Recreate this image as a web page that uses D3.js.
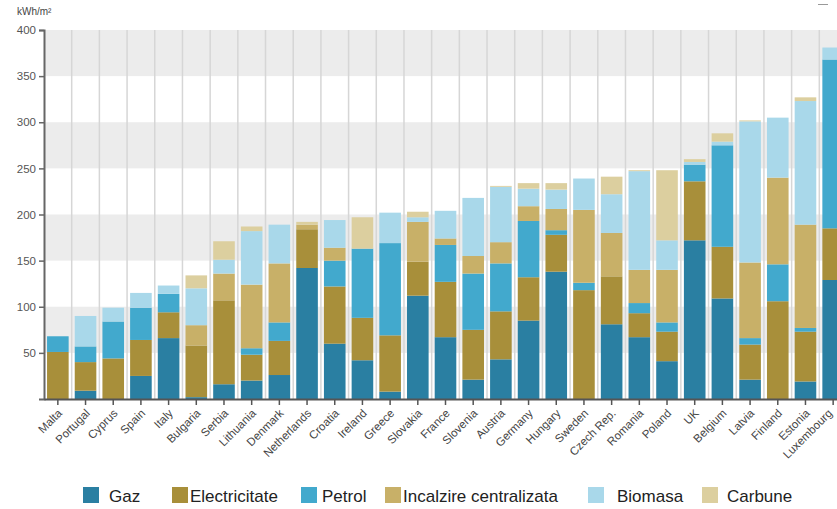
<!DOCTYPE html>
<html><head><meta charset="utf-8">
<script src="https://cdn.jsdelivr.net/npm/d3@7"></script>
<style>body{margin:0;background:#fff;overflow:hidden}svg{display:block;font-family:"Liberation Sans",Arial,sans-serif}</style>
</head><body>
<svg id="c" width="837" height="509"></svg>
<script>
const countries = ["Malta","Portugal","Cyprus","Spain","Italy","Bulgaria","Serbia","Lithuania","Denmark","Netherlands","Croatia","Ireland","Greece","Slovakia","France","Slovenia","Austria","Germany","Hungary","Sweden","Czech Rep.","Romania","Poland","UK","Belgium","Latvia","Finland","Estonia","Luxembourg"];
const seriesNames = ["Gaz","Electricitate","Petrol","Incalzire centralizata","Biomasa","Carbune"];
const gaz           = [0, 9, 0, 25, 66, 2, 16, 20, 26, 142, 60, 42, 8, 112, 67, 21, 43, 85, 138, 0, 81, 67, 41, 172, 109, 21, 0, 19, 129];
const electricitate = [51, 31, 44, 39, 28, 56, 91, 28, 37, 42, 62, 46, 61, 37, 60, 54, 52, 47, 40, 118, 52, 26, 32, 64, 56, 38, 106, 54, 56];
const petrol        = [17, 17, 40, 35, 20, 0, 0, 7, 20, 0, 28, 75, 100, 0, 40, 61, 52, 61, 5, 8, 0, 11, 10, 18, 110, 7, 40, 4, 183];
const incalzire     = [0, 0, 0, 0, 0, 22, 29, 69, 64, 5, 14, 0, 0, 43, 7, 19, 23, 16, 23, 79, 47, 36, 57, 0, 0, 82, 94, 112, 0];
const biomasa       = [0, 33, 15, 16, 9, 40, 15, 58, 42, 0, 30, 0, 33, 5, 30, 63, 60, 19, 21, 34, 42, 107, 32, 3, 4, 153, 65, 134, 13];
const carbune       = [0, 0, 0, 0, 0, 14, 20, 5, 0, 3, 0, 34, 0, 6, 0, 0, 1, 6, 7, 0, 19, 1, 76, 3, 9, 1, 0, 4, 0];
const yTicks = [50,100,150,200,250,300,350,400];
const colors = ["#2a7fa2","#a88f3a","#42a9cd","#c8b068","#a9d8ea","#dccf9f"];

const svg = d3.select("#c");
const x = d3.scaleBand().domain(countries).range([44, 847]).paddingInner(0.22).paddingOuter(0.11);
const y = d3.scaleLinear().domain([0, 400]).range([399, 30]);

// alternating background bands
const bands = [[350,400],[250,300],[150,200],[50,100]];
svg.append("g").selectAll("rect").data(bands).join("rect")
  .attr("x", 44).attr("width", 837-44)
  .attr("y", d => y(d[1])).attr("height", d => y(d[0]) - y(d[1]))
  .attr("fill", "#ececec");

// vertical separators
svg.append("g").selectAll("line").data(countries.slice(1)).join("line")
  .attr("x1", d => x(d) - x.step()*x.paddingInner()/2)
  .attr("x2", d => x(d) - x.step()*x.paddingInner()/2)
  .attr("y1", y(400)).attr("y2", y(0))
  .attr("stroke", "#d6d6d6").attr("stroke-width", 1.5);

// stacked data
const table = countries.map((c, i) => ({
  country: c,
  "Gaz": gaz[i], "Electricitate": electricitate[i], "Petrol": petrol[i],
  "Incalzire centralizata": incalzire[i], "Biomasa": biomasa[i], "Carbune": carbune[i]
}));
const stacked = d3.stack().keys(seriesNames)(table);

svg.append("g").selectAll("g").data(stacked).join("g")
  .attr("fill", (d, i) => colors[i])
  .selectAll("rect").data(d => d).join("rect")
  .attr("x", d => x(d.data.country))
  .attr("width", x.bandwidth())
  .attr("y", d => y(d[1]))
  .attr("height", d => Math.max(0, y(d[0]) - y(d[1])));

// y axis
const ya = svg.append("g").attr("transform", "translate(44,0)")
  .call(d3.axisLeft(y).tickValues(yTicks).tickSize(5).tickPadding(3).tickFormat(d3.format("d")));
ya.select(".domain").attr("stroke", "#666").attr("stroke-width", 2);
ya.selectAll(".tick line").attr("stroke", "#666").attr("stroke-width", 1.5);
ya.selectAll("text").attr("fill", "#555").attr("font-size", 11.5);

// x axis
const xa = svg.append("g").attr("transform", "translate(0,399)")
  .call(d3.axisBottom(x).tickSize(6).tickSizeOuter(0));
xa.select(".domain").attr("stroke", "#555").attr("stroke-width", 2);
xa.selectAll(".tick line").attr("stroke", "#555").attr("stroke-width", 1.5);
xa.selectAll(".tick").each(function(d) {
  const cx = x(d) + x.bandwidth()/2;
  const shift = Math.min(5, 833 - cx);
  d3.select(this).select("text")
    .attr("fill", "#444").attr("font-size", 11.5)
    .attr("text-anchor", "end").attr("x", 0).attr("y", 0).attr("dy", 0)
    .attr("transform", `translate(${shift},15) rotate(-45)`);
});

// unit label
svg.append("text").attr("x", 17).attr("y", 15).attr("font-size", 10).attr("fill", "#444").text("kWh/m²");

// top-right small mark
svg.append("line").attr("x1", 818).attr("x2", 828).attr("y1", 4.5).attr("y2", 4.5).attr("stroke", "#999").attr("stroke-width", 1);

// legend
const legendX = [83, 172, 301, 385, 588, 702];
const legendTX = [109, 190, 322, 403, 617, 727];
const lg = svg.append("g").selectAll("g").data(seriesNames).join("g");
lg.append("rect").attr("x", (d, i) => legendX[i]).attr("y", 487).attr("width", 16).attr("height", 16).attr("fill", (d, i) => colors[i]);
lg.append("text").attr("x", (d, i) => legendTX[i]).attr("y", 502).attr("font-size", 17).attr("fill", "#222").text(d => d);
</script>
</body></html>
